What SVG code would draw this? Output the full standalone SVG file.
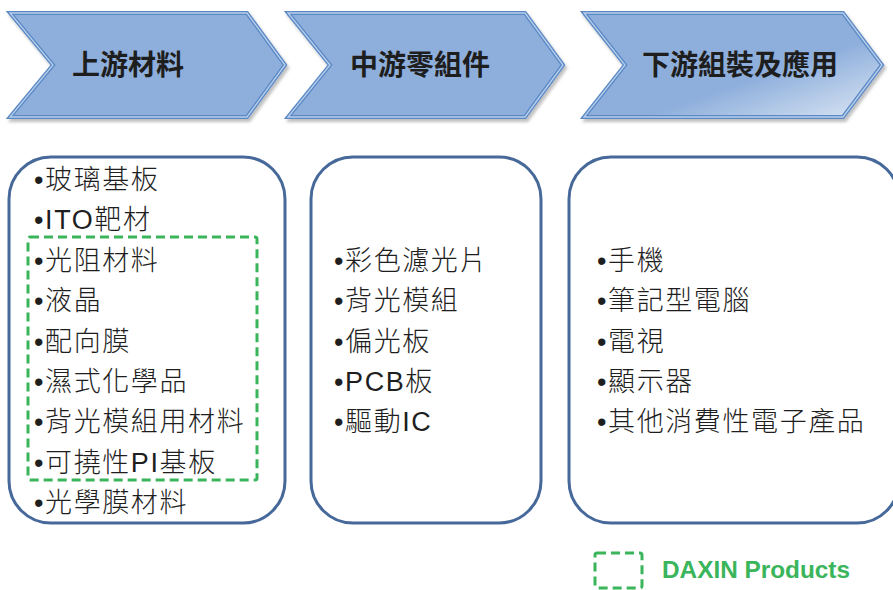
<svg xmlns="http://www.w3.org/2000/svg" width="893" height="590" viewBox="0 0 893 590">
<style>
.chev{fill:#8eafdc;stroke:#5a89c5;stroke-width:4;stroke-linejoin:miter}
.chevin{fill:none;stroke:#b9cfec;stroke-width:1.3}
.head{font-family:"Noto Sans CJK TC","Liberation Sans",sans-serif;font-weight:bold;font-size:28px;fill:#1e1e1e;text-anchor:middle}
.box{fill:#fff;stroke:#46699a;stroke-width:3}
.item{font-family:"Liberation Sans","Noto Sans CJK TC",sans-serif;font-size:27px;font-weight:300;letter-spacing:1.6px;fill:#1e1e1e}
.dash{fill:none;stroke:#3bb55b;stroke-width:3;stroke-dasharray:9 5}
.legend{font-family:"Liberation Sans","Noto Sans",sans-serif;font-weight:bold;font-size:23px;fill:#3bb55b}
</style>
<defs>
<filter id="sh" x="-5%" y="-10%" width="115%" height="130%">
<feDropShadow dx="2" dy="3" stdDeviation="1.5" flood-color="#000" flood-opacity="0.25"/>
</filter>
<linearGradient id="g3" x1="0" y1="0" x2="1" y2="1">
<stop offset="0" stop-color="#8eafdc"/>
<stop offset="0.6" stop-color="#8eafdc"/>
<stop offset="1" stop-color="#dde7f4"/>
</linearGradient>
</defs>
<g id="connectors"/>
<g id="chevron1">
<path class="chev" filter="url(#sh)" d="M10,13 L247,13 L285,65 L247,117 L10,117 L53,65 Z"/>
<path class="chevin" d="M10,13 L247,13 L285,65 L247,117 L10,117 L53,65 Z"/>
<text class="head" x="128" y="75">上游材料</text>
</g>
<g id="chevron2">
<path class="chev" filter="url(#sh)" d="M288,13 L525,13 L563,65 L525,117 L288,117 L330,65 Z"/>
<path class="chevin" d="M288,13 L525,13 L563,65 L525,117 L288,117 L330,65 Z"/>
<text class="head" x="420" y="75">中游零組件</text>
</g>
<g id="chevron3">
<path class="chev" filter="url(#sh)" style="fill:url(#g3)" d="M584,13 L843,13 L882,65 L843,117 L584,117 L625,65 Z"/>
<path class="chevin" d="M584,13 L843,13 L882,65 L843,117 L584,117 L625,65 Z"/>
<text class="head" x="740" y="75">下游組裝及應用</text>
</g>
<g id="box1">
<rect class="box" x="9" y="157" width="276" height="366" rx="42"/>
<text class="item" x="34" y="189">•玻璃基板</text>
<text class="item" x="34" y="229.4">•ITO靶材</text>
<text class="item" x="34" y="269.8">•光阻材料</text>
<text class="item" x="34" y="310.2">•液晶</text>
<text class="item" x="34" y="350.6">•配向膜</text>
<text class="item" x="34" y="391">•濕式化學品</text>
<text class="item" x="34" y="431.4">•背光模組用材料</text>
<text class="item" x="34" y="471.8">•可撓性PI基板</text>
<text class="item" x="34" y="512.2">•光學膜材料</text>
</g>
<g id="daxin-group">
<rect class="dash" x="28" y="237" width="229" height="243" rx="2"/>
</g>
<g id="box2">
<rect class="box" x="311" y="157" width="230" height="366" rx="42"/>
<text class="item" x="334" y="269.8">•彩色濾光片</text>
<text class="item" x="334" y="310.2">•背光模組</text>
<text class="item" x="334" y="350.6">•偏光板</text>
<text class="item" x="334" y="391">•PCB板</text>
<text class="item" x="334" y="431.4">•驅動IC</text>
</g>
<g id="box3">
<rect class="box" x="569" y="157" width="330" height="366" rx="42"/>
<text class="item" x="597" y="269.8">•手機</text>
<text class="item" x="597" y="310.2">•筆記型電腦</text>
<text class="item" x="597" y="350.6">•電視</text>
<text class="item" x="597" y="391">•顯示器</text>
<text class="item" x="597" y="431.4">•其他消費性電子產品</text>
</g>
<g id="legend">
<rect class="dash" x="595" y="553" width="47" height="35" rx="2"/>
<text class="legend" x="662" y="578" textLength="188" lengthAdjust="spacingAndGlyphs">DAXIN Products</text>
</g>
</svg>
